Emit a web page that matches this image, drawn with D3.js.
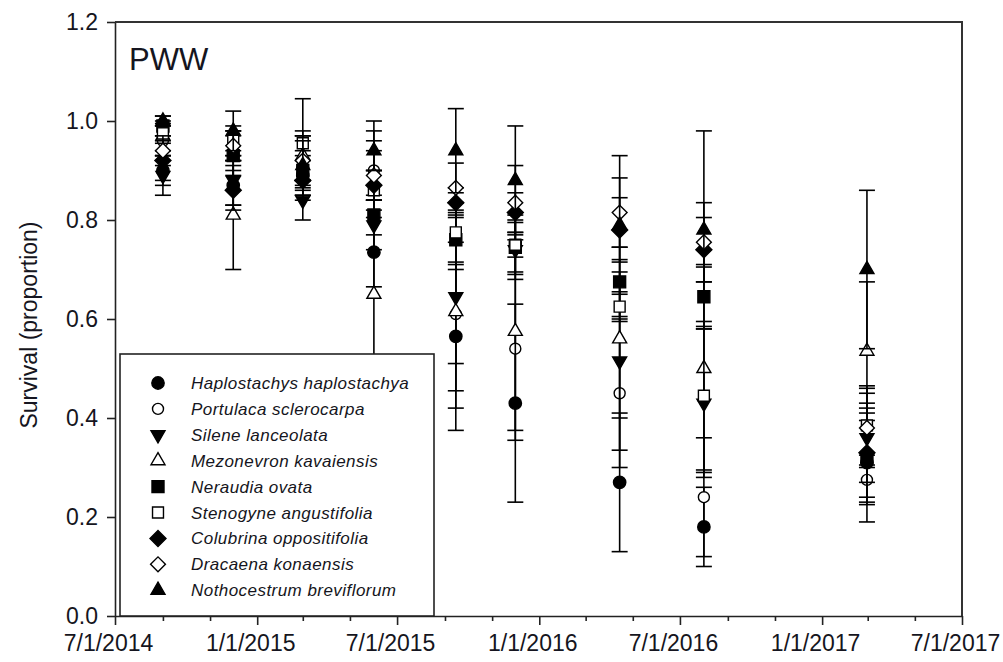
<!DOCTYPE html>
<html>
<head>
<meta charset="utf-8">
<script src="https://cdn.jsdelivr.net/npm/d3@7"></script>
<style>
  body { margin: 0; background: #fff; }
  text { font-family: "Liberation Sans", Arial, sans-serif; fill: #151520; }
</style>
</head>
<body>
<div id="chart"></div>
<script>
// sampling dates
var dates = ["2014-09-01", "2014-12-01", "2015-03-01", "2015-06-01", "2015-09-15",
             "2015-12-01", "2016-04-14", "2016-08-01", "2017-02-28"];

var speciesNames = ["Haplostachys haplostachya", "Portulaca sclerocarpa", "Silene lanceolata",
                    "Mezonevron kavaiensis", "Neraudia ovata", "Stenogyne angustifolia",
                    "Colubrina oppositifolia", "Dracaena konaensis", "Nothocestrum breviflorum"];

// survival (proportion) and error for each species, one value per date
var haplostachys    = [0.90, 0.87, 0.89, 0.735, 0.565, 0.43, 0.27, 0.18, 0.31];
var haplostachysErr = [0.03, 0.04, 0.04, 0.07, 0.19, 0.20, 0.14, 0.08, 0.12];
var portulaca       = [0.96, 0.95, 0.92, 0.90, 0.61, 0.54, 0.45, 0.24, 0.275];
var portulacaErr    = [0.03, 0.03, 0.05, 0.06, 0.10, 0.185, 0.15, 0.12, 0.05];
var silene          = [0.89, 0.88, 0.84, 0.79, 0.645, 0.74, 0.515, 0.43, 0.36];
var sileneErr       = [0.04, 0.05, 0.04, 0.05, 0.19, 0.06, 0.18, 0.15, 0.09];
var mezonevron      = [0.97, 0.81, 0.93, 0.65, 0.615, 0.575, 0.56, 0.50, 0.535];
var mezonevronErr   = [0.03, 0.11, 0.05, 0.35, 0.195, 0.20, 0.16, 0.21, 0.14];
var neraudia        = [0.99, 0.93, 0.90, 0.81, 0.76, 0.745, 0.675, 0.645, 0.32];
var neraudiaErr     = [0.02, 0.04, 0.04, 0.04, 0.06, 0.05, 0.07, 0.06, 0.09];
var stenogyne       = [0.975, 0.96, 0.955, 0.86, 0.775, 0.75, 0.625, 0.445, 0.385];
var stenogyneErr    = [0.02, 0.03, 0.09, 0.04, 0.06, 0.06, 0.03, 0.15, 0.08];
var colubrina       = [0.92, 0.86, 0.88, 0.87, 0.835, 0.815, 0.78, 0.74, 0.33];
var colubrinaErr    = [0.04, 0.04, 0.04, 0.03, 0.03, 0.04, 0.065, 0.065, 0.09];
var dracaena        = [0.94, 0.95, 0.92, 0.89, 0.865, 0.835, 0.815, 0.755, 0.38];
var dracaenaErr     = [0.03, 0.03, 0.04, 0.05, 0.05, 0.075, 0.07, 0.08, 0.08];
var nothocestrum    = [1.00, 0.98, 0.91, 0.94, 0.94, 0.88, 0.79, 0.78, 0.70];
var nothocestrumErr = [0.01, 0.04, 0.06, 0.04, 0.085, 0.11, 0.14, 0.20, 0.16];

var yTicks = [0, 0.2, 0.4, 0.6, 0.8, 1.0, 1.2];

var seriesVals = [haplostachys, portulaca, silene, mezonevron, neraudia, stenogyne, colubrina, dracaena, nothocestrum];
var seriesErrs = [haplostachysErr, portulacaErr, sileneErr, mezonevronErr, neraudiaErr, stenogyneErr, colubrinaErr, dracaenaErr, nothocestrumErr];

// marker style per species: shape, filled?, rotation
var markers = [
  {type: d3.symbolCircle,   size: 120, fill: true,  rot: 0},
  {type: d3.symbolCircle,   size: 95,  fill: false, rot: 0},
  {type: d3.symbolTriangle, size: 85,  fill: true,  rot: 180},
  {type: d3.symbolTriangle, size: 85,  fill: false, rot: 0},
  {type: d3.symbolSquare,   size: 144, fill: true,  rot: 0},
  {type: d3.symbolSquare,   size: 120, fill: false, rot: 0},
  {type: d3.symbolSquare,   size: 128, fill: true,  rot: 45},
  {type: d3.symbolSquare,   size: 110, fill: false, rot: 45},
  {type: d3.symbolTriangle, size: 85,  fill: true,  rot: 0}
];

(function() {
  var parse = d3.timeParse("%Y-%m-%d");
  var W = 1003, H = 662;
  var pLeft = 115, pRight = 962, pTop = 22, pBottom = 616;

  var svg = d3.select("#chart").append("svg").attr("width", W).attr("height", H);

  var x = d3.scaleTime().domain([parse("2014-07-01"), parse("2017-07-01")]).range([pLeft, pRight]);
  var y = d3.scaleLinear().domain([0, 1.2]).range([pBottom, pTop]);

  // frame top + right
  svg.append("path")
      .attr("d", "M" + pLeft + "," + pTop + "H" + pRight + "V" + pBottom)
      .attr("fill", "none").attr("stroke", "#333").attr("stroke-width", 2);

  // y axis
  var yAxis = svg.append("g")
      .attr("transform", "translate(" + pLeft + ",0)")
      .call(d3.axisLeft(y).tickValues(yTicks).tickFormat(d3.format(".1f")).tickSize(8).tickSizeOuter(0).tickPadding(9));
  yAxis.selectAll("text").style("font-size", "23px");
  yAxis.selectAll("line, path").attr("stroke", "#222").attr("stroke-width", 1.6);

  // x axis: tick every 2 months, labels every 6 months
  var xTicks = d3.timeMonth.range(parse("2014-07-01"), parse("2017-07-02"), 2);
  var isMajor = function(d) { return d.getMonth() % 6 === 0; };
  var xAxis = svg.append("g")
      .attr("transform", "translate(0," + pBottom + ")")
      .call(d3.axisBottom(x).tickValues(xTicks)
          .tickFormat(function(d) { return isMajor(d) ? d3.timeFormat("%-m/%-d/%Y")(d) : ""; })
          .tickSize(5).tickSizeOuter(0).tickPadding(14));
  xAxis.selectAll(".tick line").attr("y2", function(d) { return isMajor(d) ? 9 : 5; });
  xAxis.selectAll("text").style("font-size", "23px").attr("dx", -7);
  xAxis.selectAll("line, path").attr("stroke", "#222").attr("stroke-width", 1.6);

  // y title
  svg.append("text")
      .attr("transform", "translate(37," + ((pTop + pBottom) / 2 + 6) + ") rotate(-90)")
      .attr("text-anchor", "middle")
      .style("font-size", "23px")
      .text("Survival (proportion)");

  // panel label
  svg.append("text").attr("x", 129).attr("y", 70).style("font-size", "31px").text("PWW");

  // error bars + symbols
  var capW = 8;
  seriesVals.forEach(function(vals, s) {
    var g = svg.append("g");
    var errs = seriesErrs[s];
    vals.forEach(function(v, i) {
      var cx = x(parse(dates[i]));
      var lo = y(v - errs[i]), hi = y(v + errs[i]);
      g.append("line").attr("x1", cx).attr("x2", cx).attr("y1", lo).attr("y2", hi)
          .attr("stroke", "#000").attr("stroke-width", 1.6);
      [lo, hi].forEach(function(yy) {
        g.append("line").attr("x1", cx - capW).attr("x2", cx + capW).attr("y1", yy).attr("y2", yy)
            .attr("stroke", "#000").attr("stroke-width", 1.6);
      });
    });
    var m = markers[s];
    g.selectAll("path.pt").data(vals).enter().append("path")
        .attr("class", "pt")
        .attr("d", d3.symbol().type(m.type).size(m.size))
        .attr("transform", function(v, i) {
          return "translate(" + x(parse(dates[i])) + "," + y(v) + ") rotate(" + m.rot + ")";
        })
        .attr("fill", m.fill ? "#000" : "#fff")
        .attr("stroke", "#000").attr("stroke-width", 1.4);
  });

  // legend
  var legend = svg.append("g");
  legend.append("rect").attr("x", 120).attr("y", 354).attr("width", 314).attr("height", pBottom - 354)
      .attr("fill", "#fff").attr("stroke", "#222").attr("stroke-width", 1.6);
  speciesNames.forEach(function(name, s) {
    var ly = 383 + s * 25.9;
    var m = markers[s];
    legend.append("path")
        .attr("d", d3.symbol().type(m.type).size(m.size))
        .attr("transform", "translate(158," + ly + ") rotate(" + m.rot + ")")
        .attr("fill", m.fill ? "#000" : "#fff")
        .attr("stroke", "#000").attr("stroke-width", 1.4);
    legend.append("text").attr("x", 191).attr("y", ly + 6)
        .style("font-size", "17px").style("font-style", "italic").style("letter-spacing", "0.45px")
        .text(name);
  });
})();
</script>
</body>
</html>
